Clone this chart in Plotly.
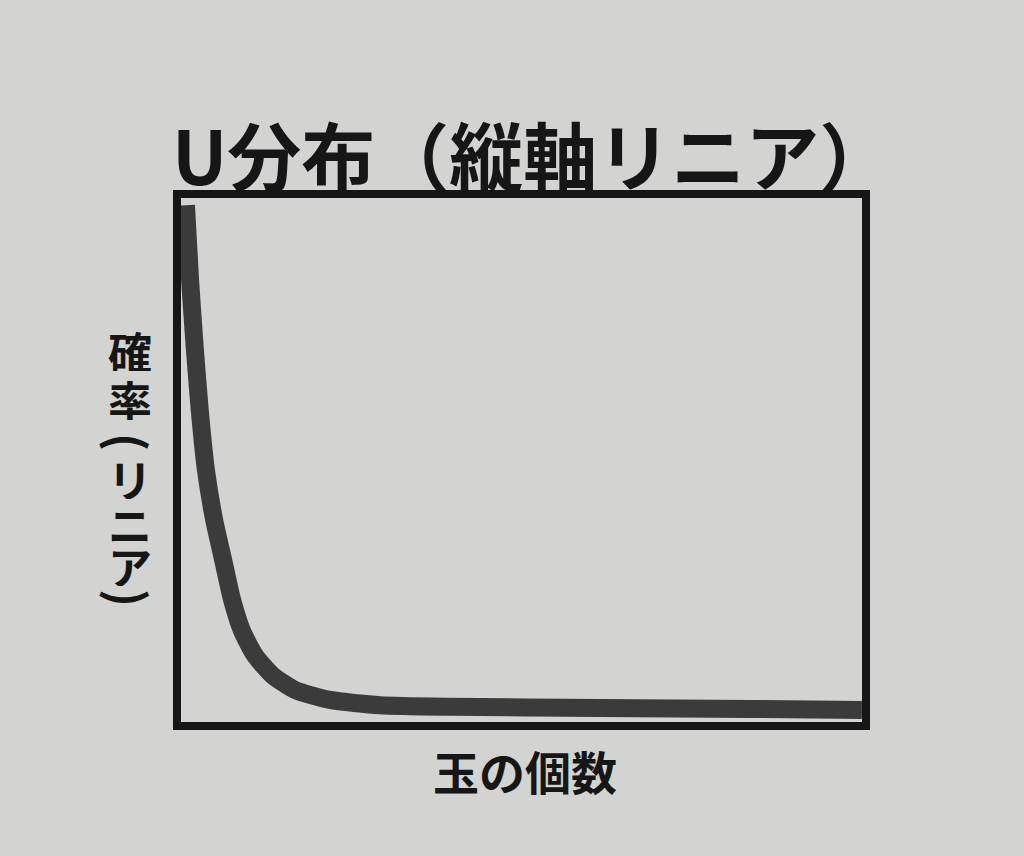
import plotly.graph_objects as go

# Data (axis units 0-100, no ticks shown)
balls = [1.3, 1.9, 2.6, 3.3, 4.2, 5.4, 6.7, 8.0, 9.4, 11.3, 13.8, 17.1, 22.2, 29.5, 39.6, 61.4, 83.2, 99.4]
prob = [97.9, 83.8, 70.7, 59.4, 48.1, 38.7, 31.2, 23.7, 18.0, 13.3, 9.6, 6.8, 4.9, 3.9, 3.6, 3.4, 3.2, 3.0]

title_text = "U分布（縦軸リニア）"
x_title = "玉の個数"
y_title_chars = ["確", "率", "(", "リ", "ニ", "ア", ")"]

BG = "#d3d4d1"
INK = "#161616"
FONT = "Noto Sans CJK JP"

fig = go.Figure()
fig.add_trace(go.Scatter(
    x=balls, y=prob, mode="lines",
    line=dict(color="#3b3b3b", width=18, shape="spline", smoothing=0.6),
    hoverinfo="skip", showlegend=False,
))

W, H = 1024, 856
L, R, T, B = 177, 158, 194, 130

fig.update_layout(
    width=W, height=H,
    margin=dict(l=L, r=R, t=T, b=B),
    paper_bgcolor=BG, plot_bgcolor=BG,
    showlegend=False,
    xaxis=dict(range=[0, 100], visible=False, fixedrange=True),
    yaxis=dict(range=[0, 100], visible=False, fixedrange=True),
)

# Frame
fig.add_shape(type="rect", xref="paper", yref="paper", x0=0, x1=1, y0=0, y1=1,
              line=dict(color=INK, width=8), layer="above")

def py(ypix):
    return (H - B - ypix) / (H - T - B)

def px(xpix):
    return (xpix - L) / (W - L - R)

# Title
fig.add_annotation(text="<b>" + title_text + "</b>", xref="paper", yref="paper",
                   x=px(170), y=py(152), xanchor="left", yanchor="middle",
                   showarrow=False, font=dict(family=FONT, size=74, color=INK))

# X axis title
fig.add_annotation(text="<b>" + x_title + "</b>", xref="paper", yref="paper",
                   x=px(525), y=py(770), xanchor="center", yanchor="middle",
                   showarrow=False, font=dict(family=FONT, size=46, color=INK))

# Y axis title (vertical, one character per annotation)
y_centres = [350, 399, 442, 478, 523, 565, 598]
for ch, yc in zip(y_title_chars, y_centres):
    is_paren = ch in "()"
    if is_paren:
        fig.add_annotation(text="<b>" + ch + "</b>", xref="paper", yref="paper",
                           x=px(130), y=py(yc), xanchor="center", yanchor="middle",
                           textangle=90, showarrow=False,
                           font=dict(family=FONT, size=48, color=INK))
    else:
        fig.add_annotation(text="<b>" + ch + "</b>", xref="paper", yref="paper",
                           x=px(130), y=py(yc), xanchor="center", yanchor="middle",
                           height=41, valign="middle", showarrow=False,
                           font=dict(family=FONT, size=44, color=INK))

fig.write_html(
    "out.html",
    config={"displayModeBar": False},
    post_script="document.body.style.margin='0';document.body.style.background='" + BG + "';",
)
